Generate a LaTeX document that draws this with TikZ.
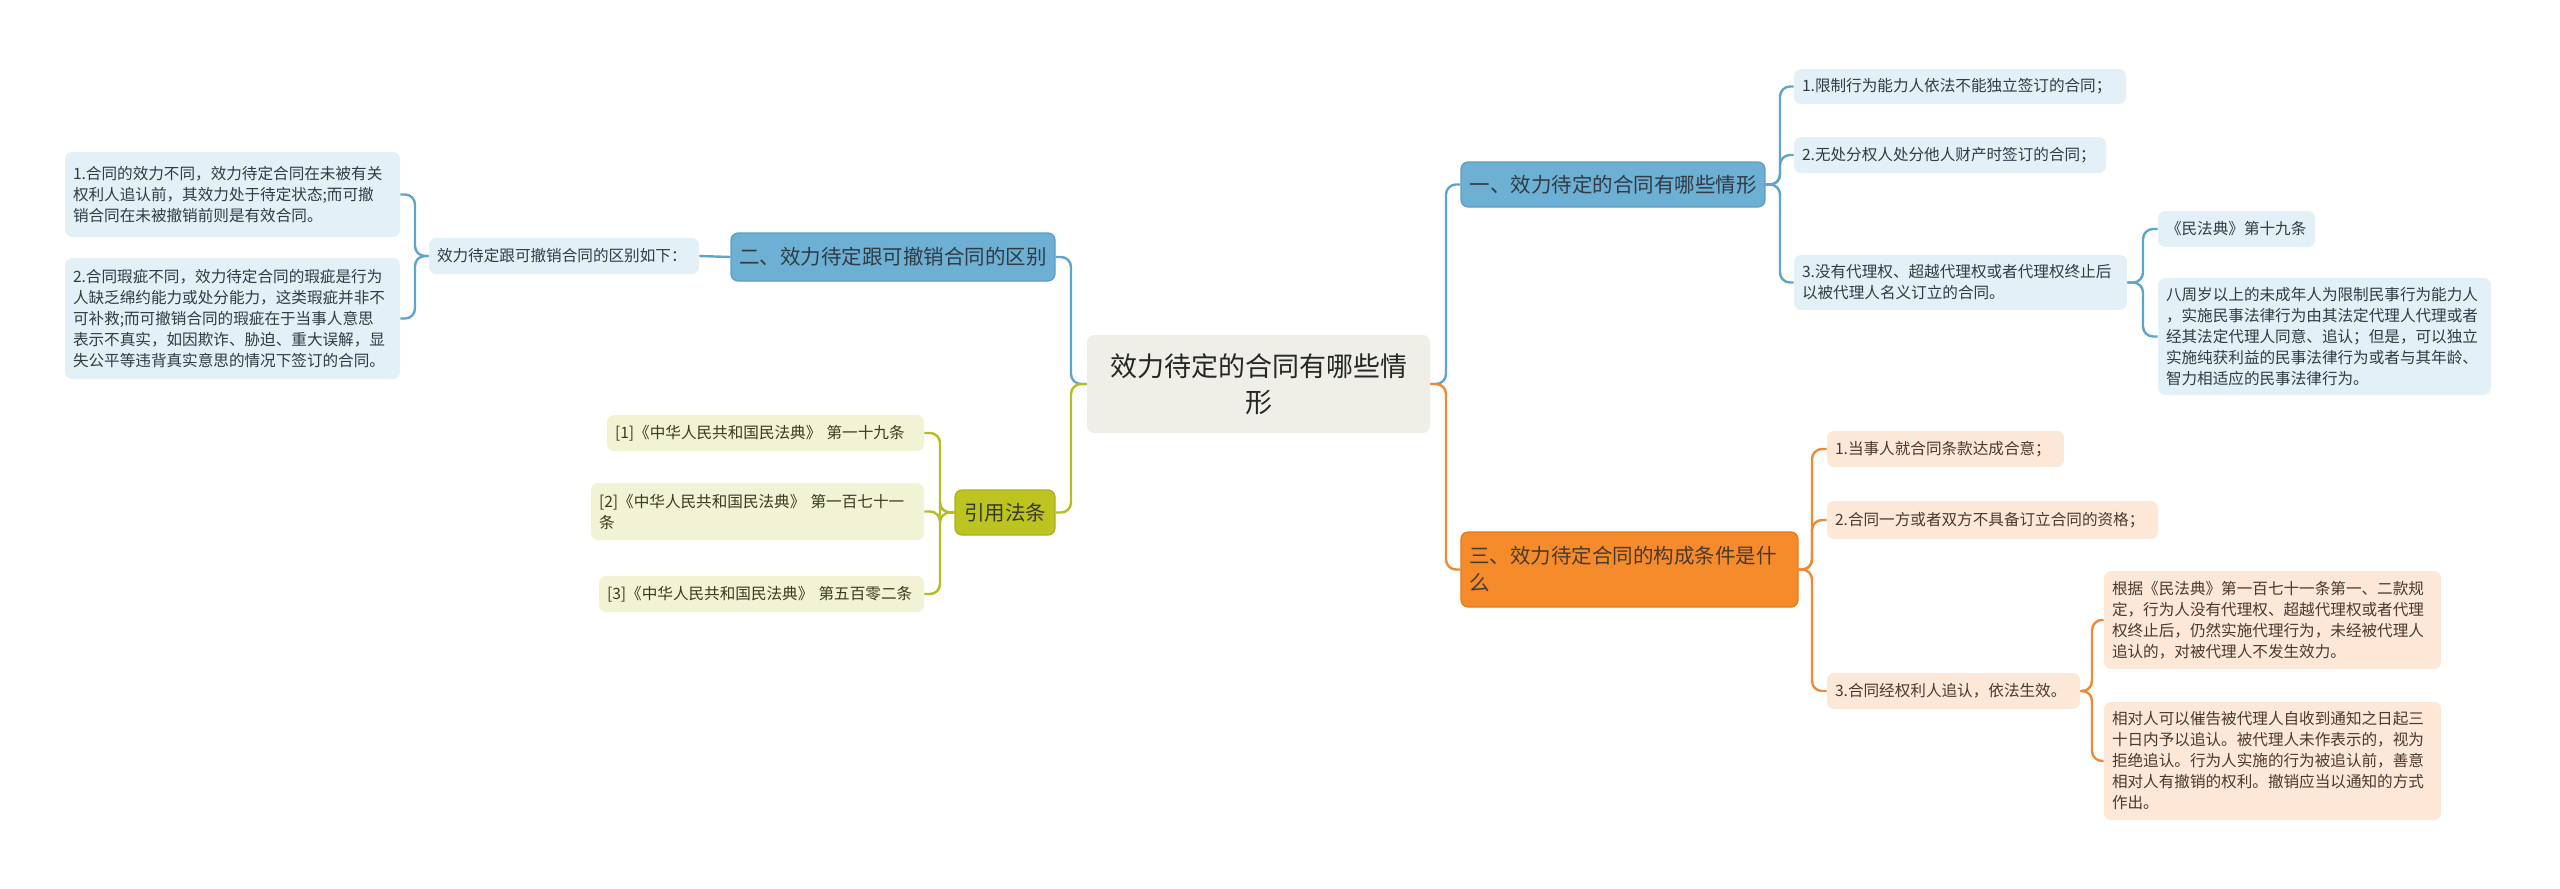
\documentclass[tikz,border=0pt]{standalone}
\usepackage{fontspec}
\setmainfont{Noto Sans CJK SC}
\definecolor{txt}{HTML}{333333}
\definecolor{btxt}{HTML}{2F3B45}
\definecolor{otxt}{HTML}{4A3A2C}
\definecolor{gtxt}{HTML}{3A3A22}
\definecolor{bline}{HTML}{5FA4CB}
\definecolor{bfill}{HTML}{6DB0D4}
\definecolor{bdraw}{HTML}{5B9EC3}
\definecolor{lbfill}{HTML}{E4F0F8}
\definecolor{oline}{HTML}{EE8A35}
\definecolor{ofill}{HTML}{F68B2C}
\definecolor{odraw}{HTML}{E57A1C}
\definecolor{lofill}{HTML}{FDE7D6}
\definecolor{gline}{HTML}{B6BC23}
\definecolor{gfill}{HTML}{BDC321}
\definecolor{gdraw}{HTML}{AAB01A}
\definecolor{lgfill}{HTML}{F1F3D4}
\definecolor{cfill}{HTML}{EFEFE8}
\tikzset{
  box/.style={rounded corners=3.5pt, inner xsep=4pt, inner ysep=2pt, text=txt, anchor=center},
  leaf/.style={box, font=\fontsize{7.8}{10.5}\selectfont, align=left},
  leafb/.style={leaf, fill=lbfill, text=btxt},
  leafo/.style={leaf, fill=lofill, text=otxt},
  leafg/.style={leaf, fill=lgfill, text=gtxt},
  branch/.style={box, font=\fontsize{10.25}{13.5}\selectfont, line width=0.6pt},
  branchb/.style={branch, fill=bfill, draw=bdraw, text=btxt},
  brancho/.style={branch, fill=ofill, draw=odraw, text=otxt},
  branchg/.style={branch, fill=gfill, draw=gdraw, text=gtxt},
  centre/.style={box, fill=cfill, font=\fontsize{13.5}{18}\selectfont, align=center, text=black!85},
  conn/.style={line width=1.2pt, rounded corners=5pt},
  bconn/.style={conn, draw=bline},
  oconn/.style={conn, draw=oline},
  gconn/.style={conn, draw=gline},
}
\begin{document}
\begin{tikzpicture}[x=0.5pt,y=-0.5pt]
\useasboundingbox (0,0) rectangle (2560,889);
% centre
\node[centre, minimum width=171.5pt, minimum height=49pt] (C) at (1258.5,384) {效力待定的合同有哪些情\\形};
% right branch 1
\node[branchb, minimum width=152pt, minimum height=22.5pt] (B1) at (1613,184.5) {一、效力待定的合同有哪些情形};
\node[leafb, text width=158pt, minimum height=17.5pt] (a1) at (1960,86.5) {1.限制行为能力人依法不能独立签订的合同；};
\node[leafb, text width=148pt, minimum height=18pt] (a2) at (1950,155) {2.无处分权人处分他人财产时签订的合同；};
\node[leafb, text width=158.5pt, minimum height=27.5pt] (a3) at (1960.5,282.5) {3.没有代理权、超越代理权或者代理权终止后\\以被代理人名义订立的合同。};
\node[leafb, text width=70.5pt, minimum height=18pt] (c1) at (2236.5,229) {《民法典》第十九条};
\node[leafb, text width=158.5pt, minimum height=58.5pt] (c2) at (2324.5,336.5) {八周岁以上的未成年人为限制民事行为能力人\\，实施民事法律行为由其法定代理人代理或者\\经其法定代理人同意、追认；但是，可以独立\\实施纯获利益的民事法律行为或者与其年龄、\\智力相适应的民事法律行为。};
% right branch 3
\node[brancho, text width=160.5pt, align=left, minimum height=37.5pt] (B3) at (1629.5,569.5) {三、效力待定合同的构成条件是什\\么};
\node[leafo, text width=110.5pt, minimum height=18pt] (o1) at (1945.5,449) {1.当事人就合同条款达成合意；};
\node[leafo, text width=157.5pt, minimum height=19pt] (o2) at (1992.5,520) {2.合同一方或者双方不具备订立合同的资格；};
\node[leafo, text width=118.5pt, minimum height=18pt] (o3) at (1953.5,691) {3.合同经权利人追认，依法生效。};
\node[leafo, text width=160.5pt, minimum height=49pt] (d1) at (2272.5,620) {根据《民法典》第一百七十一条第一、二款规\\定，行为人没有代理权、超越代理权或者代理\\权终止后，仍然实施代理行为，未经被代理人\\追认的，对被代理人不发生效力。};
\node[leafo, text width=160.5pt, minimum height=59pt] (d2) at (2272.5,761) {相对人可以催告被代理人自收到通知之日起三\\十日内予以追认。被代理人未作表示的，视为\\拒绝追认。行为人实施的行为被追认前，善意\\相对人有撤销的权利。撤销应当以通知的方式\\作出。};
% left branch 2
\node[branchb, minimum width=162pt, minimum height=24pt] (B2) at (893,257) {二、效力待定跟可撤销合同的区别};
\node[leafb, text width=127pt, minimum height=18pt] (ba) at (564,256) {效力待定跟可撤销合同的区别如下：};
\node[leafb, text width=159.5pt, minimum height=42.5pt] (e1) at (232.5,194.5) {1.合同的效力不同，效力待定合同在未被有关\\权利人追认前，其效力处于待定状态;而可撤\\销合同在未被撤销前则是有效合同。};
\node[leafb, text width=159.5pt, minimum height=60.5pt] (e2) at (232.5,318.5) {2.合同瑕疵不同，效力待定合同的瑕疵是行为\\人缺乏绵约能力或处分能力，这类瑕疵并非不\\可补救;而可撤销合同的瑕疵在于当事人意思\\表示不真实，如因欺诈、胁迫、重大误解，显\\失公平等违背真实意思的情况下签订的合同。};
% left branch green
\node[branchg, minimum width=50pt, minimum height=22.5pt] (G) at (1005,512.5) {引用法条};
\node[leafg, text width=150.5pt, minimum height=18pt] (g1) at (765.5,433) {[1]《中华人民共和国民法典》 第一十九条};
\node[leafg, text width=158.5pt, minimum height=28.5pt] (g2) at (757.5,511.5) {[2]《中华人民共和国民法典》 第一百七十一\\条};
\node[leafg, text width=154.5pt, minimum height=18pt] (g3) at (761.5,594) {[3]《中华人民共和国民法典》 第五百零二条};
% junctions
\coordinate (jR) at (1446,384);
\coordinate (jB1) at (1780,184.5);
\coordinate (jA3) at (2143,282.5);
\coordinate (jB3) at (1812,569.5);
\coordinate (jO3) at (2092,691);
\coordinate (jL) at (1071,384);
\coordinate (jBa) at (415,256);
\coordinate (jG) at (940,512.5);
% connectors
\draw[bconn] (C.east) -- (jR) |- (B1.west);
\draw[oconn] (C.east) -- (jR) |- (B3.west);
\draw[bconn] (B1.east) -- (jB1) |- (a1.west);
\draw[bconn] (B1.east) -- (jB1) |- (a2.west);
\draw[bconn] (B1.east) -- (jB1) |- (a3.west);
\draw[bconn] (a3.east) -- (jA3) |- (c1.west);
\draw[bconn] (a3.east) -- (jA3) |- (c2.west);
\draw[oconn] (B3.east) -- (jB3) |- (o1.west);
\draw[oconn] (B3.east) -- (jB3) |- (o2.west);
\draw[oconn] (B3.east) -- (jB3) |- (o3.west);
\draw[oconn] (o3.east) -- (jO3) |- (d1.west);
\draw[oconn] (o3.east) -- (jO3) |- (d2.west);
\draw[bconn] (C.west) -- (jL) |- (B2.east);
\draw[gconn] (C.west) -- (jL) |- (G.east);
\draw[bconn] (B2.west) -- (ba.east);
\draw[bconn] (ba.west) -- (jBa) |- (e1.east);
\draw[bconn] (ba.west) -- (jBa) |- (e2.east);
\draw[gconn] (G.west) -- (jG) |- (g1.east);
\draw[gconn] (G.west) -- (jG) |- (g2.east);
\draw[gconn] (G.west) -- (jG) |- (g3.east);
\end{tikzpicture}
\end{document}
